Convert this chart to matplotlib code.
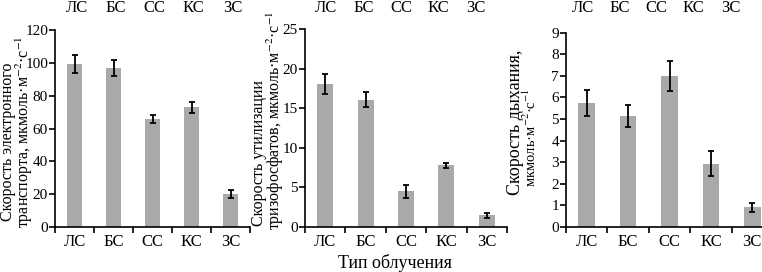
import numpy as np
import matplotlib.pyplot as plt

plt.rcParams['font.family'] = ['Liberation Serif', 'DejaVu Serif']
plt.rcParams['mathtext.fontset'] = 'stix'

categories = ['ЛС', 'БС', 'СС', 'КС', 'ЗС']

# electron transport rate
etr = [99.3, 96.9, 65.8, 72.9, 20.1]
etr_err = [5.3, 4.7, 2.3, 3.5, 2.4]

# triose phosphate utilisation rate
tpu = [18.1, 16.1, 4.5, 7.8, 1.5]
tpu_err = [1.25, 0.95, 0.85, 0.35, 0.3]

# respiration rate
resp = [5.73, 5.14, 6.99, 2.92, 0.91]
resp_err = [0.6, 0.5, 0.7, 0.58, 0.2]

bar_color = '#a9a9a9'
W, H = 762, 272

fig = plt.figure(figsize=(7.62, 2.72), dpi=100)


def panel(rect, vals, errs, ymax, ystep):
    ax = fig.add_axes([rect[0] / W, 1 - rect[3] / H, (rect[1] - rect[0]) / W, (rect[3] - rect[2]) / H])
    x = np.arange(len(categories))
    ax.bar(x, vals, width=0.4, color=bar_color, zorder=2)
    ax.errorbar(x, vals, yerr=errs, fmt='none', ecolor='black', elinewidth=1.3,
                capsize=2.5, capthick=1.3, zorder=3)
    ax.set_xlim(-0.5, len(categories) - 0.5)
    ax.set_ylim(0, ymax)
    ax.set_yticks(np.arange(0, ymax + ystep / 2, ystep))
    ax.set_xticks(x)
    ax.set_xticklabels(categories)
    ax.set_xticks(np.arange(-0.5, len(categories)), minor=True)
    ax.tick_params(axis='x', which='major', length=0, labelsize=12, pad=5)
    ax.tick_params(axis='x', which='minor', length=4, width=1.2, direction='out')
    ax.tick_params(axis='y', length=4, width=1.2, labelsize=11, pad=1)
    for s in ['top', 'right']:
        ax.spines[s].set_visible(False)
    for s in ['left', 'bottom']:
        ax.spines[s].set_linewidth(1.2)
    return ax


def top_row(x0, x1):
    # category labels repeated along the top edge (cut-off row above the panels)
    ax = fig.add_axes([x0 / W, 1 - 16 / H, (x1 - x0) / W, 0.001])
    ax.set_frame_on(False)
    ax.set_xlim(-0.5, len(categories) - 0.5)
    ax.set_xticks(np.arange(len(categories)))
    ax.set_xticklabels(categories)
    ax.set_yticks([])
    ax.tick_params(axis='x', length=0, labelsize=12, labelbottom=False, labeltop=True, pad=0)


def vlabel(px, py, s, size, va='center'):
    fig.text(px / W, 1 - py / H, s, rotation=90, fontsize=size, ha='center', va=va)


ax1 = panel((55, 250, 30, 227), etr, etr_err, 120, 20)
top_row(57, 252)
vlabel(8, 142, 'Скорость электронного', 11.5)
vlabel(24, 132, 'транспорта, мкмоль·м$^{-2}$·с$^{-1}$', 11.5)

ax2 = panel((305, 507, 29.3, 227), tpu, tpu_err, 25, 5)
top_row(307, 495)
vlabel(259, 153, 'Скорость утилизации', 11.5)
vlabel(275, 120, 'тризофосфатов, мкмоль·м$^{-2}$·с$^{-1}$', 11.5)
fig.text(395 / W, 1 - 263 / H, 'Тип облучения', fontsize=13, ha='center', va='center')

ax3 = panel((566, 773, 32.7, 227), resp, resp_err, 9, 1)
top_row(564, 749)
vlabel(515, 122, 'Скорость дыхания,', 13)
vlabel(530, 138, 'мкмоль·м$^{-2}$·с$^{-1}$', 10.5)

fig.savefig('out.png', dpi=100)
